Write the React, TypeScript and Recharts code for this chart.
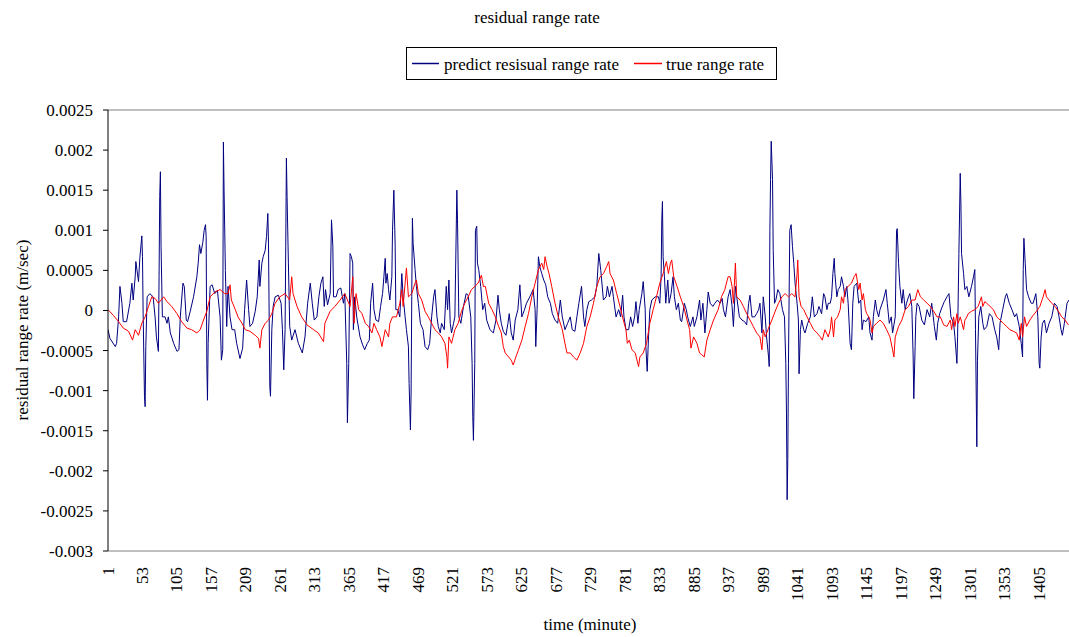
import React from 'react';
import { LineChart, Line, XAxis, YAxis, ReferenceLine } from 'recharts';

const FONT = '"Liberation Serif", "Times New Roman", serif';

const chartTitle = 'residual range rate';
const xTitle = 'time (minute)';
const yTitle = 'residual range rate (m/sec)';
const predictName = 'predict resisual range rate';
const trueName = 'true range rate';

const xTicks = [1, 53, 105, 157, 209, 261, 313, 365, 417, 469, 521, 573, 625, 677, 729, 781, 833, 885, 937, 989, 1041, 1093, 1145, 1197, 1249, 1301, 1353, 1405];
const yTicks = [-0.003, -0.0025, -0.002, -0.0015, -0.001, -0.0005, 0, 0.0005, 0.001, 0.0015, 0.002, 0.0025];

// [minute, value]
const predictPoints: number[][] = [
  [1,-2.4e-4],[4,-3.5e-4],[12,-4.5e-4],[14,-4.1e-4],[17,-0.8e-4],[19,3.0e-4],[22,0.9e-4],[24,-1.4e-4],[29,-1.4e-4],[34,0.9e-4],[37,3.4e-4],[39,1.3e-4],[42,4.2e-4],[43,6.1e-4],[47,3.6e-4],[49,6.5e-4],[52,9.3e-4],[53,6.7e-4],[54,-0.4e-4],[56,-10.7e-4],[57,-12.0e-4],[58,-4.5e-4],[60,1.7e-4],[64,2.1e-4],[69,1.7e-4],[72,-0.8e-4],[74,-3.3e-4],[77,-5.1e-4],[78,4.2e-4],[79,14.2e-4],[80,17.3e-4],[81,8.0e-4],[83,-0.8e-4],[87,-0.8e-4],[90,-1.6e-4],[92,-0.8e-4],[95,-2.8e-4],[100,-4.1e-4],[105,-5.1e-4],[108,-4.9e-4],[110,-0.8e-4],[114,3.4e-4],[116,3.0e-4],[119,-1.2e-4],[121,-1.4e-4],[125,-0.1e-4],[130,1.7e-4],[135,4.2e-4],[137,5.9e-4],[139,8.2e-4],[141,7.1e-4],[144,8.5e-4],[146,10.0e-4],[148,10.7e-4],[149,9.2e-4],[150,-6.6e-4],[151,-11.2e-4],[152,-4.1e-4],[155,3.0e-4],[158,3.2e-4],[162,2.1e-4],[166,2.5e-4],[170,-0.8e-4],[172,-6.2e-4],[174,-4.9e-4],[175,21.0e-4],[176,15.0e-4],[178,5.0e-4],
  [180,-2.0e-4],[182,3.0e-4],[185,-0.8e-4],[188,-2.4e-4],[192,-2.4e-4],[195,-4.1e-4],[200,-6.0e-4],[204,-4.7e-4],[207,0.1e-4],[210,3.8e-4],[213,0.1e-4],[215,-2.0e-4],[219,-1.6e-4],[223,-0.1e-4],[226,1.7e-4],[229,6.3e-4],[230,3.0e-4],[233,5.9e-4],[235,6.7e-4],[238,7.5e-4],[240,9.2e-4],[242,12.1e-4],[243,8.4e-4],[244,-0.8e-4],[245,-9.5e-4],[246,-10.7e-4],[248,-2.4e-4],[250,0.5e-4],[253,1.7e-4],[258,1.9e-4],[262,0.9e-4],[264,-2.4e-4],[266,-7.4e-4],[268,-2.4e-4],[269,8.0e-4],[270,19.0e-4],[271,14.2e-4],[273,5.9e-4],[275,-2.0e-4],[278,-3.7e-4],[283,-2.4e-4],[288,-4.1e-4],[294,-5.3e-4],[298,-3.3e-4],[302,0.9e-4],[306,3.4e-4],[309,0.9e-4],[312,-1.2e-4],[316,-0.8e-4],[319,1.7e-4],[322,3.4e-4],[325,4.2e-4],[327,0.5e-4],[329,2.6e-4],[332,0.7e-4],[336,2.1e-4],[338,11.3e-4],[340,8.0e-4],[341,1.7e-4],[345,1.7e-4],[348,2.6e-4],[352,2.8e-4],[356,0.9e-4],[358,2.1e-4],[361,-6.6e-4],[362,-14.0e-4],[364,-6.6e-4],[366,7.1e-4],
  [368,6.7e-4],[370,5.9e-4],[371,-2.4e-4],[373,1.7e-4],[376,-0.8e-4],[381,-3.3e-4],[385,-4.3e-4],[388,-4.9e-4],[392,-4.1e-4],[395,-3.7e-4],[397,0.9e-4],[400,3.4e-4],[402,0.1e-4],[405,-1.2e-4],[409,-1.4e-4],[412,0.5e-4],[415,2.1e-4],[417,4.2e-4],[419,6.5e-4],[420,3.4e-4],[422,4.6e-4],[424,2.6e-4],[426,1.3e-4],[429,4.2e-4],[430,10.0e-4],[432,15.0e-4],[434,8.0e-4],[435,0.1e-4],[438,0.1e-4],[441,-0.8e-4],[444,4.6e-4],[446,1.7e-4],[449,-0.8e-4],[451,-2.4e-4],[454,-4.5e-4],[455,-9.1e-4],[457,-14.9e-4],[458,-10.3e-4],[459,1.7e-4],[460,11.5e-4],[461,8.4e-4],[464,5.1e-4],[466,3.0e-4],[469,0.9e-4],[472,-1.6e-4],[476,-2.4e-4],[479,-4.5e-4],[483,-4.9e-4],[486,-4.1e-4],[489,-0.8e-4],[492,1.7e-4],[494,2.6e-4],[497,-0.8e-4],[499,-2.0e-4],[502,-2.8e-4],[504,-1.6e-4],[508,-2.4e-4],[511,3.0e-4],[513,0.1e-4],[515,3.8e-4],[517,-1.6e-4],[519,-2.8e-4],[522,-1.6e-4],[524,-0.8e-4],[527,15.0e-4],[528,11.3e-4],[530,-0.8e-4],[533,-1.6e-4],[537,0.5e-4],[541,2.1e-4],[544,1.9e-4],[548,-0.8e-4],[550,-6.6e-4],[551,-13.2e-4],[552,-16.2e-4],[554,-6.6e-4],[555,10.0e-4],[557,10.5e-4],
  [558,5.9e-4],[560,5.1e-4],[563,3.0e-4],[566,0.1e-4],[569,0.9e-4],[572,-1.2e-4],[577,-2.4e-4],[582,-2.8e-4],[586,-1.2e-4],[589,1.9e-4],[591,0.1e-4],[594,-1.6e-4],[597,-2.6e-4],[601,-3.1e-4],[604,-1.6e-4],[606,-0.4e-4],[609,-2.8e-4],[612,-3.7e-4],[615,-1.2e-4],[619,0.1e-4],[622,3.2e-4],[625,-0.8e-4],[629,0.1e-4],[632,0.9e-4],[637,1.7e-4],[642,2.6e-4],[645,0.1e-4],[646,-4.5e-4],[648,0.1e-4],[650,6.7e-4],[652,5.5e-4],[655,4.6e-4],[658,3.8e-4],[661,3.2e-4],[664,1.7e-4],[668,0.9e-4],[671,-0.4e-4],[675,-1.2e-4],[679,-1.6e-4],[683,1.3e-4],[686,-0.8e-4],[690,-2.4e-4],[694,-1.6e-4],[698,-0.8e-4],[701,-2.4e-4],[705,-2.6e-4],[708,-0.8e-4],[711,0.9e-4],[715,3.0e-4],[718,-0.8e-4],[720,-2.0e-4],[723,0.1e-4],[726,1.1e-4],[730,1.3e-4],[735,1.7e-4],[738,3.0e-4],[741,7.1e-4],[744,5.0e-4],
  [748,1.3e-4],[752,1.7e-4],[754,3.0e-4],[757,1.7e-4],[761,3.0e-4],[763,1.7e-4],[767,-0.8e-4],[771,0.1e-4],[774,-0.8e-4],[777,1.9e-4],[779,-0.8e-4],[782,-2.4e-4],[786,-2.4e-4],[789,-0.8e-4],[792,-2.0e-4],[795,-0.8e-4],[797,1.1e-4],[800,-1.6e-4],[802,0.1e-4],[806,2.1e-4],[808,3.6e-4],[811,0.1e-4],[812,-4.5e-4],[814,-7.6e-4],[816,-3.3e-4],[818,0.1e-4],[821,1.3e-4],[826,1.7e-4],[831,1.7e-4],[833,0.9e-4],[835,4.2e-4],[836,11.3e-4],[837,13.6e-4],[838,6.7e-4],[840,4.2e-4],[842,0.9e-4],[845,3.8e-4],[847,0.9e-4],[850,2.1e-4],[853,4.2e-4],[855,1.7e-4],[858,0.1e-4],[861,0.9e-4],[864,-1.2e-4],[866,-1.4e-4],[870,0.9e-4],[873,0.1e-4],[875,-0.8e-4],[879,-2.0e-4],[883,-0.8e-4],[885,-2.0e-4],[889,-0.8e-4],[893,1.3e-4],[895,-1.2e-4],[898,0.9e-4],[901,-2.8e-4],[904,0.1e-4],[906,2.3e-4],[909,0.9e-4],[913,0.5e-4],[916,0.9e-4],
  [920,1.3e-4],[924,0.9e-4],[927,1.5e-4],[929,0.1e-4],[932,-0.8e-4],[936,1.7e-4],[939,2.6e-4],[942,0.5e-4],[944,-2.0e-4],[947,3.0e-4],[949,1.7e-4],[953,-0.8e-4],[957,-1.2e-4],[961,-1.4e-4],[964,-1.8e-4],[967,0.9e-4],[969,1.9e-4],[972,-0.8e-4],[976,-0.8e-4],[979,-0.4e-4],[982,0.1e-4],[984,0.9e-4],[987,-2.8e-4],[989,1.7e-4],[992,-0.8e-4],[994,-3.3e-4],[997,-5.8e-4],[998,-7.0e-4],[999,10.0e-4],[1000,16.3e-4],[1001,21.1e-4],[1003,16.3e-4],[1004,7.5e-4],[1006,0.9e-4],[1008,1.3e-4],[1011,2.6e-4],[1014,2.1e-4],[1018,0.1e-4],[1021,-0.8e-4],[1023,-6.6e-4],[1024,-12.8e-4],[1025,-23.6e-4],[1026,-18.6e-4],[1027,-6.6e-4],[1028,1.7e-4],[1029,10.0e-4],[1031,10.7e-4],[1033,8.0e-4],[1035,5.9e-4],[1037,3.4e-4],[1040,0.9e-4],[1042,-1.2e-4],[1043,-7.9e-4],[1045,-2.4e-4],[1047,-1.2e-4],[1050,-2.4e-4],[1052,-2.8e-4],[1056,-1.6e-4],[1060,-0.8e-4],[1063,1.7e-4],[1066,-0.8e-4],[1070,-0.4e-4],[1073,0.5e-4],[1077,-0.4e-4],[1080,2.1e-4],[1082,1.7e-4],[1085,0.1e-4],[1087,0.9e-4],
  [1090,0.9e-4],[1092,1.7e-4],[1094,4.6e-4],[1096,6.5e-4],[1097,4.6e-4],[1100,1.7e-4],[1102,2.6e-4],[1105,3.0e-4],[1107,4.2e-4],[1110,3.0e-4],[1112,1.7e-4],[1115,3.0e-4],[1117,0.9e-4],[1120,-4.1e-4],[1122,-4.9e-4],[1124,0.9e-4],[1126,3.0e-4],[1130,3.4e-4],[1133,0.9e-4],[1136,1.3e-4],[1138,-2.4e-4],[1140,-1.2e-4],[1144,-1.4e-4],[1148,-0.8e-4],[1150,-2.8e-4],[1153,-3.7e-4],[1155,-0.8e-4],[1158,1.3e-4],[1160,0.1e-4],[1163,-0.8e-4],[1165,0.1e-4],[1170,1.3e-4],[1174,2.6e-4],[1176,0.9e-4],[1179,-1.6e-4],[1182,-0.8e-4],[1184,-2.8e-4],[1188,-0.8e-4],[1190,10.0e-4],[1191,10.2e-4],[1193,5.9e-4],[1195,3.0e-4],[1198,0.9e-4],[1200,2.6e-4],[1203,0.1e-4],[1205,0.9e-4],[1208,1.7e-4],[1210,2.1e-4],[1213,0.5e-4],[1215,-5.8e-4],[1216,-11.0e-4],[1218,-4.5e-4],[1219,-0.8e-4],[1221,0.9e-4],[1224,0.5e-4],[1228,-1.2e-4],[1232,-1.8e-4],[1236,0.1e-4],[1240,-0.8e-4],[1243,0.9e-4],[1247,-2.0e-4],[1250,-3.7e-4],[1252,-1.6e-4],[1255,-0.4e-4],[1258,0.3e-4],[1262,1.1e-4],[1266,1.7e-4],[1269,2.1e-4],
  [1272,-0.8e-4],[1276,-1.6e-4],[1278,-3.3e-4],[1281,-6.6e-4],[1282,-3.3e-4],[1284,7.1e-4],[1286,17.1e-4],[1287,13.4e-4],[1288,7.1e-4],[1291,4.6e-4],[1293,2.6e-4],[1296,3.0e-4],[1299,1.7e-4],[1303,3.0e-4],[1306,4.2e-4],[1308,5.1e-4],[1309,-2.4e-4],[1311,-17.0e-4],[1312,-6.2e-4],[1314,-0.8e-4],[1317,0.5e-4],[1320,-1.6e-4],[1322,-2.4e-4],[1326,-2.0e-4],[1330,-0.4e-4],[1334,-0.8e-4],[1338,-2.4e-4],[1341,-3.3e-4],[1344,-4.9e-4],[1346,-1.6e-4],[1350,0.1e-4],[1354,1.7e-4],[1356,2.1e-4],[1360,0.9e-4],[1364,0.1e-4],[1368,-0.8e-4],[1371,-0.4e-4],[1375,-2.0e-4],[1378,-4.1e-4],[1380,-5.8e-4],[1381,5.1e-4],[1382,9.0e-4],[1384,5.9e-4],[1386,2.6e-4],[1389,1.7e-4],[1393,0.9e-4],[1396,0.9e-4],[1400,2.1e-4],[1403,-0.8e-4],[1405,-6.6e-4],[1406,-7.2e-4],[1408,-3.3e-4],[1410,-1.6e-4],[1413,-1.2e-4],[1416,-2.8e-4],[1420,-1.6e-4],[1424,-0.8e-4],[1428,0.9e-4],[1432,0.5e-4],[1435,-0.8e-4],[1438,-2.4e-4],[1440,-3.1e-4],[1443,-1.6e-4],[1447,0.9e-4],[1450,1.3e-4],
];

const truePoints: number[][] = [
  [1,0.1e-4],[9,-0.6e-4],[17,-1.4e-4],[24,-2.2e-4],[32,-2.6e-4],[38,-3.7e-4],[42,-2.4e-4],[47,-3.1e-4],[52,-1.6e-4],[57,-0.8e-4],[62,0.5e-4],[67,1.7e-4],[72,1.5e-4],[77,0.9e-4],[85,1.7e-4],[90,1.1e-4],[97,0.5e-4],[105,-0.4e-4],[112,-1.4e-4],[120,-2.2e-4],[127,-2.4e-4],[135,-2.8e-4],[140,-2.4e-4],[145,-1.2e-4],[150,-0.1e-4],[155,1.7e-4],[162,2.3e-4],[170,2.6e-4],[177,2.1e-4],
  [182,2.1e-4],[185,3.2e-4],[187,1.3e-4],[193,0.1e-4],[197,-0.8e-4],[203,-1.6e-4],[208,-2.4e-4],[215,-2.6e-4],[223,-3.1e-4],[228,-3.5e-4],[230,-4.7e-4],[233,-2.4e-4],[238,-1.6e-4],[243,-1.2e-4],[248,-0.4e-4],[253,0.9e-4],[260,1.7e-4],[268,2.1e-4],[275,1.3e-4],[278,4.2e-4],[280,2.1e-4],[286,0.5e-4],[293,-0.8e-4],[301,-1.8e-4],[311,-2.4e-4],[318,-2.8e-4],[326,-3.9e-4],[328,-1.6e-4],[336,-0.1e-4],[343,0.5e-4],[351,1.3e-4],[358,2.1e-4],
  [366,0.5e-4],[370,4.2e-4],[372,-1.6e-4],[375,2.1e-4],[379,0.1e-4],[384,-0.4e-4],[389,-1.6e-4],[394,-2.0e-4],[399,-2.8e-4],[402,-1.6e-4],[406,-2.4e-4],[411,-3.3e-4],[414,-4.5e-4],[419,-2.4e-4],[424,-3.3e-4],[426,-1.6e-4],[430,-0.8e-4],[436,-0.8e-4],[441,0.9e-4],[444,2.6e-4],[446,0.5e-4],[449,3.4e-4],[451,5.3e-4],[454,1.7e-4],[459,2.1e-4],[464,3.4e-4],[466,3.8e-4],[469,2.1e-4],[474,1.3e-4],[479,-0.1e-4],[484,-0.8e-4],[489,-1.6e-4],[494,-2.4e-4],[499,-2.8e-4],[504,-3.3e-4],[509,-4.1e-4],[512,-5.8e-4],[513,-7.2e-4],[515,-3.3e-4],[519,-4.1e-4],[524,-2.4e-4],[529,-1.6e-4],[534,-0.1e-4],[539,0.9e-4],[544,1.7e-4],[549,2.6e-4],
  [554,3.0e-4],[559,3.4e-4],[564,4.4e-4],[567,3.0e-4],[570,3.0e-4],[575,0.9e-4],[580,0.1e-4],[585,-0.8e-4],[590,-2.0e-4],[594,-2.8e-4],[597,-4.5e-4],[600,-5.3e-4],[605,-5.8e-4],[609,-6.2e-4],[612,-6.8e-4],[616,-5.8e-4],[620,-4.9e-4],[625,-3.7e-4],[630,-2.0e-4],[635,-0.4e-4],[640,1.7e-4],[645,3.4e-4],[650,5.1e-4],[655,5.9e-4],[658,5.1e-4],[660,6.7e-4],[663,5.5e-4],[666,4.6e-4],[670,3.0e-4],[675,0.9e-4],[680,-0.8e-4],[686,-2.4e-4],[690,-4.1e-4],[693,-5.3e-4],[698,-5.3e-4],[703,-5.8e-4],[708,-6.2e-4],[713,-5.3e-4],[718,-4.1e-4],[723,-2.0e-4],[728,-0.8e-4],[733,0.9e-4],[738,3.0e-4],[743,4.2e-4],
  [748,4.6e-4],[753,5.5e-4],[756,6.1e-4],[758,4.6e-4],[763,3.8e-4],[768,2.1e-4],[773,0.5e-4],[778,-1.2e-4],[782,-2.4e-4],[784,-4.1e-4],[787,-3.7e-4],[791,-4.9e-4],[796,-5.3e-4],[801,-7.0e-4],[803,-5.8e-4],[808,-5.3e-4],[813,-4.1e-4],[818,-1.6e-4],[823,0.1e-4],[828,1.7e-4],[833,3.4e-4],[838,4.6e-4],[843,6.1e-4],[846,4.6e-4],[849,5.9e-4],[851,6.3e-4],[854,4.2e-4],[859,3.0e-4],[864,1.7e-4],[869,0.5e-4],[874,-1.2e-4],[878,-2.4e-4],[880,-4.7e-4],[884,-3.3e-4],[889,-4.1e-4],[893,-5.3e-4],[896,-5.5e-4],[900,-5.8e-4],[904,-3.7e-4],[909,-2.4e-4],[914,-1.2e-4],
  [921,0.1e-4],[926,1.7e-4],[931,2.6e-4],[936,4.2e-4],[939,4.2e-4],[942,3.0e-4],[944,0.9e-4],[947,5.9e-4],[949,1.7e-4],[954,1.3e-4],[959,0.5e-4],[964,-0.4e-4],[969,-1.2e-4],[974,-2.0e-4],[979,-2.8e-4],[984,-3.3e-4],[987,-4.9e-4],[989,-2.4e-4],[992,-3.3e-4],[997,-2.2e-4],[1002,-1.2e-4],[1007,-0.1e-4],[1012,0.9e-4],[1017,1.7e-4],[1022,2.1e-4],[1027,1.7e-4],[1032,2.1e-4],[1037,1.7e-4],[1040,4.6e-4],[1041,6.3e-4],[1043,1.7e-4],[1046,0.5e-4],[1050,0.1e-4],[1055,-0.8e-4],[1060,-1.6e-4],[1065,-2.4e-4],[1070,-2.8e-4],[1075,-3.3e-4],[1078,-3.7e-4],[1082,-2.4e-4],[1087,-3.3e-4],
  [1090,-2.4e-4],[1092,-0.8e-4],[1095,-3.3e-4],[1097,-1.2e-4],[1101,-0.8e-4],[1105,0.1e-4],[1107,1.7e-4],[1110,0.9e-4],[1112,2.6e-4],[1117,3.0e-4],[1122,3.4e-4],[1126,4.2e-4],[1129,4.6e-4],[1133,2.6e-4],[1135,3.4e-4],[1138,1.3e-4],[1140,2.1e-4],[1143,0.1e-4],[1145,-0.4e-4],[1148,-0.8e-4],[1150,-1.2e-4],[1153,-2.8e-4],[1155,-2.0e-4],[1160,-1.6e-4],[1165,-1.2e-4],[1170,-1.6e-4],[1175,-2.4e-4],[1180,-3.3e-4],[1184,-4.9e-4],[1186,-5.8e-4],[1188,-3.3e-4],[1193,-2.0e-4],[1198,-1.2e-4],[1203,0.1e-4],[1208,0.5e-4],[1213,1.3e-4],[1218,1.3e-4],[1222,2.6e-4],[1226,1.7e-4],[1231,1.3e-4],[1236,0.9e-4],[1241,0.5e-4],[1246,-0.1e-4],[1251,-0.8e-4],[1256,-0.8e-4],[1261,-1.8e-4],[1266,-2.0e-4],
  [1271,-1.2e-4],[1273,-2.4e-4],[1276,-0.8e-4],[1278,-2.0e-4],[1281,-0.4e-4],[1283,-1.6e-4],[1286,-0.8e-4],[1288,-1.4e-4],[1291,-2.4e-4],[1293,-1.2e-4],[1296,-0.8e-4],[1298,-0.4e-4],[1303,-0.1e-4],[1308,0.1e-4],[1313,0.5e-4],[1318,1.7e-4],[1320,0.5e-4],[1323,1.1e-4],[1326,0.9e-4],[1331,0.5e-4],[1336,0.1e-4],[1341,-0.8e-4],[1346,-1.2e-4],[1351,-1.6e-4],[1356,-2.0e-4],[1361,-2.4e-4],[1366,-2.6e-4],[1371,-2.8e-4],[1375,-3.7e-4],[1378,-1.6e-4],[1380,-3.3e-4],[1383,-0.8e-4],[1386,-2.0e-4],[1391,-1.2e-4],[1396,-0.6e-4],[1401,-0.1e-4],[1406,0.5e-4],[1411,1.7e-4],[1414,2.6e-4],[1416,1.7e-4],[1420,1.3e-4],[1424,0.9e-4],[1429,0.5e-4],[1434,-0.1e-4],[1439,-0.8e-4],[1444,-1.2e-4],[1449,-1.8e-4],
];

const predictData = predictPoints.map(([t, v]) => ({ t, v }));
const trueData = truePoints.map(([t, v]) => ({ t, v }));

const fmtY = (v: number) => String(+v.toFixed(4));

const XTick = (props: any) => {
  const { x, y, payload } = props;
  return (
    <text
      x={x}
      y={y}
      transform={`rotate(-90 ${x} ${y})`}
      textAnchor="end"
      dominantBaseline="central"
      fontFamily={FONT}
      fontSize={17}
      fill="#000"
    >
      {payload.value}
    </text>
  );
};

const textStyle: React.CSSProperties = {
  position: 'absolute',
  fontFamily: FONT,
  fontSize: 17,
  color: '#000',
  whiteSpace: 'nowrap',
  lineHeight: 1,
};

export default function App() {
  return (
    <div style={{ position: 'absolute', left: 0, top: 0, width: 1069, height: 637, background: '#fff', overflow: 'hidden' }}>
      <LineChart
        width={1069}
        height={637}
        margin={{ top: 110, right: 0, bottom: 0, left: 0 }}
      >
        <XAxis
          type="number"
          dataKey="t"
          domain={[1, 1450]}
          ticks={xTicks}
          interval={0}
          allowDataOverflow
          height={86}
          tickLine={false}
          tickSize={0}
          tickMargin={16}
          axisLine={{ stroke: '#808080' }}
          tick={XTick}
        />
        <YAxis
          type="number"
          domain={[-0.003, 0.0025]}
          ticks={yTicks}
          interval={0}
          allowDataOverflow
          width={108}
          tickSize={5}
          tickMargin={10}
          axisLine={{ stroke: '#000' }}
          tickLine={{ stroke: '#000' }}
          tickFormatter={fmtY}
          tick={{ fontFamily: FONT, fontSize: 17, fill: '#000' }}
        />
        <ReferenceLine y={0.0025} stroke="#808080" />
        <Line
          data={predictData}
          dataKey="v"
          type="linear"
          stroke="#000080"
          strokeWidth={1}
          dot={false}
          activeDot={false}
          isAnimationActive={false}
        />
        <Line
          data={trueData}
          dataKey="v"
          type="linear"
          stroke="#ff0000"
          strokeWidth={1}
          dot={false}
          activeDot={false}
          isAnimationActive={false}
        />
      </LineChart>

      <div style={{ ...textStyle, left: 537, top: 17, transform: 'translate(-50%, -50%)' }}>{chartTitle}</div>

      <div
        style={{
          position: 'absolute',
          left: 406,
          top: 47,
          width: 371,
          height: 33,
          border: '1px solid #000',
          boxSizing: 'border-box',
          background: '#fff',
        }}
      >
        <svg width={369} height={31} style={{ position: 'absolute', left: 0, top: 0 }}>
          <line x1={5} x2={32} y1={15.5} y2={15.5} stroke="#000080" strokeWidth={1.5} />
          <line x1={227} x2={255} y1={15.5} y2={15.5} stroke="#ff0000" strokeWidth={1.5} />
        </svg>
        <div style={{ ...textStyle, left: 37, top: 15.5, transform: 'translateY(-50%)' }}>{predictName}</div>
        <div style={{ ...textStyle, left: 259, top: 15.5, transform: 'translateY(-50%)' }}>{trueName}</div>
      </div>

      <div style={{ ...textStyle, left: 590, top: 624, transform: 'translate(-50%, -50%)' }}>{xTitle}</div>
      <div style={{ ...textStyle, left: 22, top: 330, transform: 'translate(-50%, -50%) rotate(-90deg)' }}>{yTitle}</div>
    </div>
  );
}
